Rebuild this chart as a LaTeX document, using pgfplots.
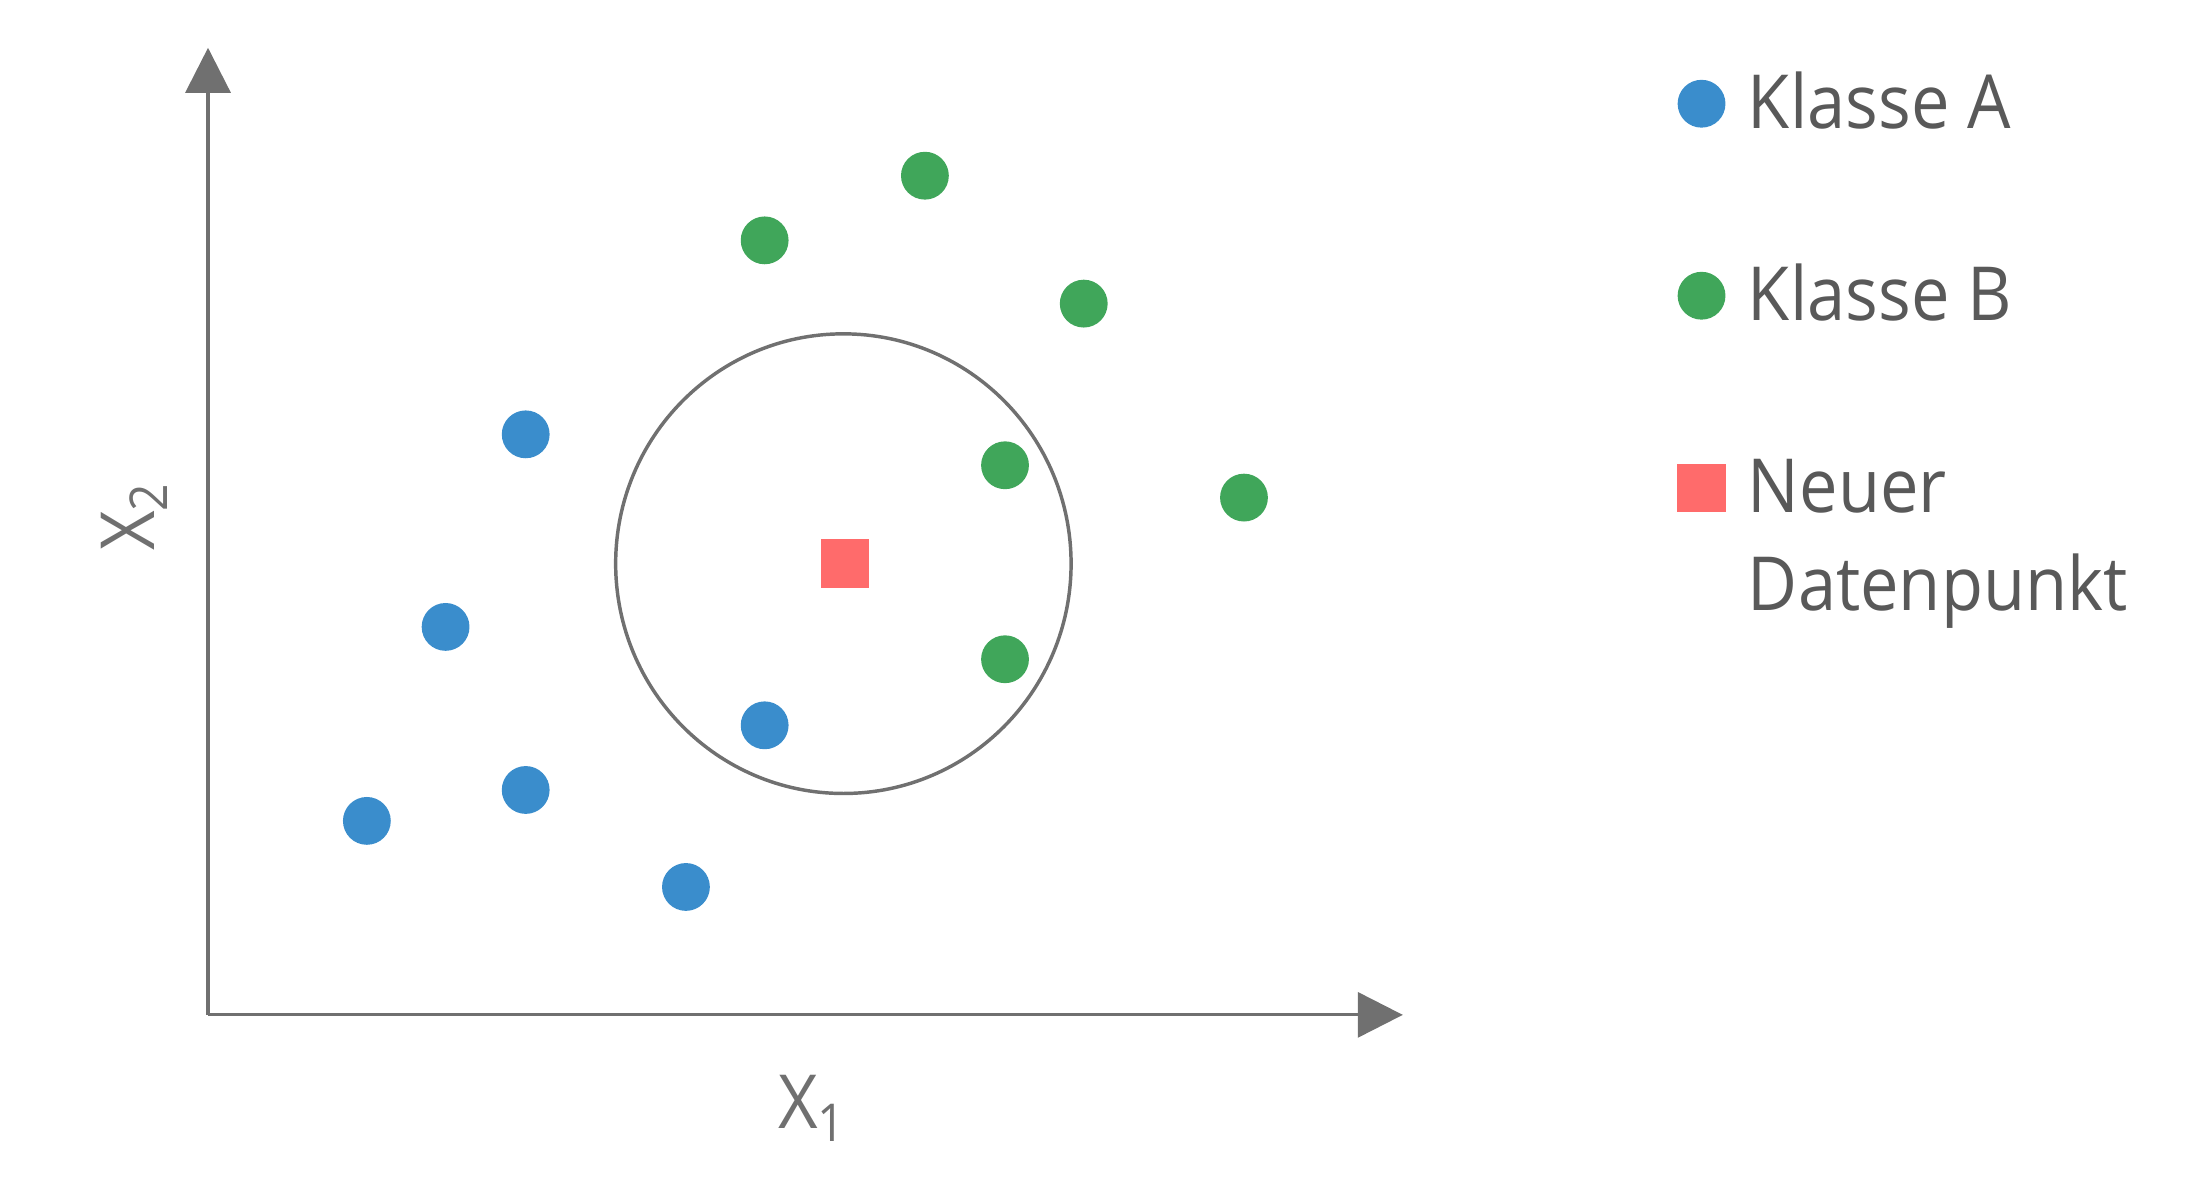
\documentclass[border=0pt]{standalone}
\usepackage{fontspec}
\setmainfont{Open Sans}[FakeStretch=0.92]
\usepackage{pgfplots}
\pgfplotsset{compat=1.18}
\usetikzlibrary{arrows.meta}
\definecolor{ca}{HTML}{3A8DCC}
\definecolor{cb}{HTML}{40A65A}
\definecolor{cn}{HTML}{FF6B6B}
\definecolor{axc}{HTML}{707070}
\definecolor{txt}{HTML}{595959}
\begin{document}
\begin{tikzpicture}
\path[use as bounding box] (-1.48,-1.17) rectangle (14.20,7.22);
\begin{axis}[
  anchor=south west, at={(0,0)},
  x=1cm, y=1cm,
  xmin=0, xmax=8.5, ymin=0, ymax=6.88,
  enlargelimits=false,
  axis lines=left,
  axis line style={draw=axc, line width=0.65pt, -{Triangle[length=0.32cm,width=0.32cm]}},
  ticks=none,
  clip=false,
  xlabel={X\textsubscript{1}}, ylabel={X\textsubscript{2}},
  label style={font=\fontsize{15.1pt}{18pt}\selectfont, text=axc, inner sep=0pt},
  xlabel style={at={(axis description cs:0.4765,-0.1179)}, anchor=base west},
  ylabel style={at={(axis description cs:-0.0447,0.479)}, anchor=base west},
  legend style={at={(axis cs:10.46,6.71)}, anchor=north west, draw=none, fill=none,
    inner sep=0pt, outer sep=0pt,
    font=\fontsize{15.1pt}{19.9pt}\selectfont, text=txt,
    row sep=0.91cm, column sep=0.165cm,
    nodes={inner sep=0pt, outer sep=0pt}},
  legend cell align=left,
  legend image code/.code={\draw[#1] plot coordinates {(0.145cm,0cm)};},
]
\addplot[only marks, mark=*, mark size=4.64pt, color=ca, mark options={draw=none, fill=ca}]
  coordinates {(2.26,4.13) (1.69,2.76) (1.13,1.38) (2.26,1.60) (3.40,0.91) (3.96,2.06)};
\addlegendentry{Klasse A}
\addplot[only marks, mark=*, mark size=4.64pt, color=cb, mark options={draw=none, fill=cb}]
  coordinates {(3.96,5.51) (5.10,5.97) (6.23,5.06) (5.67,3.91) (7.37,3.68) (5.67,2.53)};
\addlegendentry{Klasse B}
\addplot[only marks, mark=square*, mark size=4.7pt, color=cn, mark options={draw=none, fill=cn}]
  coordinates {(4.53,3.21)};
\addlegendentry{\rlap{\raisebox{-0.70cm}[0pt][0pt]{Datenpunkt}}Neuer\vphantom{Kl}}
\draw[axc, line width=0.7pt] (axis cs:4.52,3.21) ellipse [x radius=1.62, y radius=1.635];
\end{axis}
\end{tikzpicture}
\end{document}
